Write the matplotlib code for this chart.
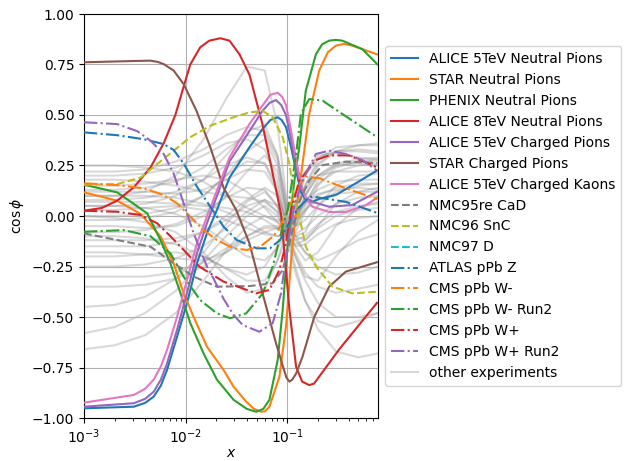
import matplotlib
matplotlib.use("Agg")
import matplotlib.pyplot as plt

# ---- data (x on log axis, y = cos phi) ----

# ALICE 5TeV Neutral Pions
alice5_pi0_x = [0.001, 0.00309, 0.004, 0.00485, 0.0057, 0.00656, 0.00822, 0.0103, 0.0129, 0.0162, 0.0203, 0.0270,
                0.0424, 0.0569, 0.068, 0.0804, 0.088, 0.0970, 0.109, 0.122, 0.136, 0.152, 0.176, 0.206, 0.300, 0.472, 0.762]
alice5_pi0_y = [-0.952, -0.944, -0.925, -0.894, -0.84, -0.762, -0.598, -0.432, -0.235, -0.085, 0.03, 0.19,
                0.34, 0.43, 0.475, 0.489, 0.475, 0.44, 0.34, 0.224, 0.12, 0.08, 0.07, 0.085, 0.104, 0.162, 0.225]

# STAR Neutral Pions
star_pi0_x = [0.001, 0.00212, 0.00360, 0.00565, 0.00762, 0.00955, 0.0120, 0.0162, 0.0236, 0.0296,
              0.0394, 0.047, 0.0552, 0.060, 0.0667, 0.0836, 0.0970, 0.109, 0.122, 0.141, 0.164, 0.206, 0.25,
              0.300, 0.36, 0.437, 0.767]
star_pi0_y = [0.117, 0.076, 0.01, -0.1, -0.235, -0.383, -0.5, -0.647, -0.762, -0.845,
              -0.919, -0.955, -0.969, -0.967, -0.944, -0.796, -0.548, -0.218, 0.026, 0.257, 0.505, 0.72, 0.81,
              0.843, 0.852, 0.843, 0.80]

# PHENIX Neutral Pions
phenix_pi0_x = [0.001, 0.00212, 0.00309, 0.00418, 0.00565, 0.00708, 0.00887, 0.0111, 0.0150, 0.0203,
                0.0296, 0.040, 0.0493, 0.058, 0.0667, 0.0804, 0.0900, 0.101, 0.109, 0.117, 0.131, 0.152, 0.191,
                0.22, 0.258, 0.30, 0.348, 0.547, 0.767]
phenix_pi0_y = [0.155, 0.117, 0.06, 0.013, -0.119, -0.235, -0.38, -0.53, -0.68, -0.81,
                -0.91, -0.955, -0.969, -0.955, -0.91, -0.713, -0.465, -0.135, 0.03, 0.17, 0.34, 0.62, 0.80,
                0.85, 0.868, 0.872, 0.868, 0.826, 0.752]

# ALICE 8TeV Neutral Pions
alice8_pi0_x = [0.001, 0.0015, 0.00212, 0.00309, 0.00451, 0.00608, 0.00792, 0.00955, 0.0111, 0.0139, 0.0171,
                0.0219, 0.0270, 0.0339, 0.0424, 0.0569, 0.0718, 0.0867, 0.105, 0.122, 0.140, 0.164, 0.183,
                0.206, 0.324, 0.762]
alice8_pi0_y = [0.026, 0.040, 0.076, 0.142, 0.24, 0.36, 0.5, 0.64, 0.75, 0.835, 0.868,
                0.88, 0.868, 0.80, 0.70, 0.455, 0.21, 0.01, -0.465, -0.746, -0.82, -0.837, -0.83,
                -0.795, -0.66, -0.43]

# ALICE 5TeV Charged Pions
alice5_pic_x = [0.001, 0.00309, 0.004, 0.00485, 0.0057, 0.00656, 0.00822, 0.0103, 0.0129, 0.0162, 0.0270, 0.0424,
                0.0569, 0.067, 0.0774, 0.087, 0.0970, 0.109, 0.122, 0.136, 0.152, 0.177, 0.258, 0.434, 0.762]
alice5_pic_y = [-0.944, -0.927, -0.905, -0.87, -0.81, -0.73, -0.564, -0.383, -0.185, -0.036, 0.27, 0.42,
                0.52, 0.56, 0.574, 0.55, 0.50, 0.38, 0.24, 0.14, 0.09, 0.07, 0.046, 0.054, 0.12]

# STAR Charged Pions
star_pic_x = [0.001, 0.0035, 0.00451, 0.0053, 0.00608, 0.00762, 0.00955, 0.0128, 0.0175, 0.0236, 0.0314, 0.0424,
              0.0569, 0.0774, 0.0900, 0.098, 0.105, 0.112, 0.122, 0.141, 0.184, 0.258, 0.377, 0.762]
star_pic_y = [0.761, 0.768, 0.769, 0.763, 0.752, 0.72, 0.653, 0.52, 0.34, 0.14, 0.03, -0.135,
              -0.38, -0.63, -0.74, -0.80, -0.82, -0.81, -0.78, -0.697, -0.5, -0.35, -0.275, -0.229]

# ALICE 5TeV Charged Kaons
alice5_k_x = [0.001, 0.00309, 0.004, 0.00485, 0.0057, 0.00656, 0.00822, 0.0103, 0.0129, 0.0162, 0.0270, 0.0424,
              0.0569, 0.068, 0.0804, 0.089, 0.0970, 0.109, 0.122, 0.136, 0.152, 0.176, 0.258, 0.377, 0.592, 0.762]
alice5_k_y = [-0.924, -0.886, -0.855, -0.81, -0.745, -0.663, -0.5, -0.317, -0.135, -0.003, 0.29, 0.455,
              0.546, 0.60, 0.61, 0.59, 0.55, 0.42, 0.28, 0.16, 0.09, 0.046, 0.02, 0.02, 0.054, 0.09]

# NMC95re CaD
nmc95_x = [0.001, 0.00212, 0.00451, 0.00762, 0.0120, 0.0203, 0.0424, 0.0718, 0.0900, 0.105,
           0.131, 0.164, 0.222, 0.377, 0.767]
nmc95_y = [-0.086, -0.119, -0.152, -0.234, -0.30, -0.35, -0.347, -0.333, -0.267, -0.135,
           0.07, 0.175, 0.252, 0.269, 0.262]

# NMC96 SnC
nmc96_x = [0.001, 0.00212, 0.00360, 0.00524, 0.00762, 0.0111, 0.0175, 0.0296, 0.0424, 0.0573,
           0.0718, 0.0900, 0.105, 0.117, 0.131, 0.152, 0.191, 0.278, 0.437, 0.767]
nmc96_y = [0.155, 0.158, 0.19, 0.257, 0.323, 0.39, 0.447, 0.489, 0.513, 0.52,
           0.489, 0.39, 0.257, 0.09, 0.0, -0.152, -0.25, -0.35, -0.383, -0.375]

# NMC97 D (not visible in the plotted range)
nmc97_x = []
nmc97_y = []

# ATLAS pPb Z
atlas_z_x = [0.001, 0.00212, 0.00387, 0.00608, 0.00762, 0.00955, 0.0129, 0.0175, 0.0236, 0.0318,
             0.0500, 0.0675, 0.0848, 0.100, 0.117, 0.131, 0.164, 0.177, 0.377, 0.767]
atlas_z_y = [0.414, 0.40, 0.38, 0.356, 0.327, 0.26, 0.145, 0.046, -0.053, -0.119,
             -0.16, -0.16, -0.119, -0.05, 0.013, 0.043, 0.093, 0.096, 0.07, 0.015]

# CMS pPb W-
cms_wm_x = [0.001, 0.00212, 0.00387, 0.00608, 0.00822, 0.0111, 0.0150, 0.0203, 0.0296, 0.0399,
            0.0540, 0.0729, 0.0848, 0.105, 0.131, 0.152, 0.206, 0.377, 0.767]
cms_wm_y = [0.162, 0.153, 0.137, 0.104, 0.063, -0.003, -0.07, -0.119, -0.16, -0.168,
            -0.152, -0.10, -0.053, 0.05, 0.15, 0.195, 0.187, 0.137, 0.084]

# CMS pPb W- Run2
cms_wm2_x = [0.001, 0.00247, 0.00451, 0.00708, 0.00955, 0.0139, 0.0203, 0.0274, 0.0394, 0.0573,
             0.0718, 0.0900, 0.101, 0.122, 0.136, 0.164, 0.222, 0.348, 0.767]
cms_wm2_y = [-0.078, -0.07, -0.10, -0.185, -0.30, -0.416, -0.482, -0.506, -0.482, -0.383,
             -0.25, -0.053, 0.03, 0.307, 0.505, 0.579, 0.571, 0.505, 0.39]

# CMS pPb W+
cms_wp_x = [0.001, 0.00212, 0.00360, 0.00524, 0.00708, 0.00955, 0.0136, 0.0236, 0.0296, 0.0493,
            0.0667, 0.0836, 0.0970, 0.109, 0.131, 0.191, 0.258, 0.406, 0.767]
cms_wp_y = [0.026, 0.021, 0.005, -0.036, -0.10, -0.168, -0.25, -0.325, -0.342, -0.383,
            -0.366, -0.267, -0.135, 0.03, 0.175, 0.277, 0.30, 0.30, 0.24]

# CMS pPb W+ Run2
cms_wp2_x = [0.001, 0.00212, 0.00334, 0.00451, 0.00608, 0.00762, 0.00887, 0.0103, 0.0120, 0.0139,
             0.0162, 0.0188, 0.0236, 0.0296, 0.0365, 0.0531, 0.0718, 0.0867, 0.101, 0.117,
             0.141, 0.191, 0.258, 0.377, 0.547, 0.767]
cms_wp2_y = [0.464, 0.455, 0.42, 0.373, 0.307, 0.21, 0.112, 0.013, -0.086, -0.168,
             -0.25, -0.31, -0.41, -0.49, -0.54, -0.573, -0.531, -0.383, -0.135, 0.05,
             0.175, 0.307, 0.323, 0.307, 0.277, 0.224]

# other experiments (grey), all on one x grid
other_x = [0.001, 0.002, 0.004, 0.008, 0.015, 0.025, 0.04, 0.06, 0.08, 0.1, 0.12, 0.15, 0.2, 0.3, 0.5, 0.78]
other_y = [
    [0.10, 0.10, 0.12, 0.20, 0.38, 0.58, 0.74, 0.72, 0.45, 0.05, -0.05, 0.10, 0.25, 0.32, 0.33, 0.32],
    [0.22, 0.22, 0.23, 0.27, 0.33, 0.40, 0.44, 0.42, 0.30, 0.05, 0.00, 0.15, 0.28, 0.34, 0.35, 0.35],
    [0.05, 0.05, 0.06, 0.10, 0.18, 0.30, 0.42, 0.45, 0.30, 0.00, -0.08, 0.02, 0.15, 0.24, 0.27, 0.27],
    [0.00, 0.00, 0.01, 0.04, 0.10, 0.20, 0.32, 0.38, 0.25, -0.02, -0.10, -0.08, 0.05, 0.15, 0.20, 0.21],
    [-0.05, -0.05, -0.06, -0.05, 0.00, 0.10, 0.22, 0.30, 0.22, 0.00, -0.05, 0.05, 0.18, 0.25, 0.27, 0.28],
    [-0.15, -0.15, -0.15, -0.13, -0.08, 0.00, 0.08, 0.14, 0.10, -0.05, -0.10, -0.12, -0.05, 0.06, 0.12, 0.14],
    [-0.25, -0.25, -0.24, -0.21, -0.15, -0.06, 0.02, 0.08, 0.05, -0.06, -0.15, -0.22, -0.18, -0.05, 0.04, 0.07],
    [-0.58, -0.55, -0.48, -0.37, -0.22, -0.10, 0.00, 0.05, 0.00, -0.08, -0.20, -0.30, -0.32, -0.20, -0.08, -0.02],
    [-0.66, -0.64, -0.59, -0.48, -0.32, -0.17, -0.05, 0.00, -0.03, -0.10, -0.25, -0.42, -0.56, -0.67, -0.70, -0.68],
    [0.10, 0.10, 0.10, 0.09, 0.06, 0.02, -0.03, -0.08, -0.10, -0.08, -0.02, 0.07, 0.16, 0.22, 0.25, 0.26],
    [0.15, 0.15, 0.16, 0.18, 0.20, 0.18, 0.12, 0.04, -0.03, -0.06, 0.00, 0.10, 0.20, 0.26, 0.28, 0.29],
    [0.05, 0.05, 0.04, 0.01, -0.05, -0.13, -0.20, -0.22, -0.16, -0.08, 0.00, 0.08, 0.13, 0.17, 0.18, 0.18],
    [-0.10, -0.10, -0.11, -0.14, -0.20, -0.26, -0.29, -0.25, -0.15, -0.04, 0.06, 0.14, 0.20, 0.22, 0.22, 0.22],
    [0.00, -0.01, -0.03, -0.08, -0.18, -0.30, -0.38, -0.36, -0.22, -0.06, -0.10, -0.18, -0.22, -0.18, -0.12, -0.09],
    [-0.20, -0.20, -0.19, -0.18, -0.20, -0.26, -0.32, -0.32, -0.22, -0.10, -0.18, -0.28, -0.35, -0.38, -0.36, -0.34],
    [0.25, 0.25, 0.24, 0.22, 0.17, 0.10, 0.04, 0.00, -0.02, -0.03, 0.05, 0.15, 0.26, 0.32, 0.35, 0.36],
    [0.08, 0.08, 0.09, 0.12, 0.18, 0.25, 0.29, 0.26, 0.12, -0.06, -0.12, -0.10, -0.04, 0.02, 0.05, 0.06],
    [-0.30, -0.30, -0.30, -0.28, -0.23, -0.16, -0.10, -0.06, -0.06, -0.10, -0.20, -0.32, -0.43, -0.50, -0.50, -0.48],
    [0.12, 0.12, 0.12, 0.11, 0.13, 0.18, 0.23, 0.22, 0.12, -0.04, -0.02, 0.03, 0.08, 0.11, 0.12, 0.12],
    [-0.08, -0.08, -0.07, -0.04, 0.02, 0.09, 0.14, 0.13, 0.05, -0.10, -0.15, -0.14, -0.09, -0.04, -0.01, 0.00],
    [0.18, 0.18, 0.17, 0.15, 0.12, 0.10, 0.09, 0.07, 0.02, -0.05, 0.08, 0.22, 0.30, 0.31, 0.29, 0.28],
    [-0.02, -0.02, -0.01, 0.02, 0.10, 0.20, 0.27, 0.26, 0.15, -0.06, 0.05, 0.20, 0.29, 0.32, 0.32, 0.31],
    [0.03, 0.03, 0.04, 0.05, 0.03, -0.02, -0.06, -0.09, -0.10, -0.10, -0.05, 0.03, 0.10, 0.14, 0.16, 0.16],
    [-0.18, -0.18, -0.19, -0.21, -0.22, -0.18, -0.10, -0.05, -0.05, -0.07, 0.00, 0.06, 0.11, 0.13, 0.14, 0.13],
    [0.20, 0.20, 0.21, 0.24, 0.30, 0.36, 0.38, 0.33, 0.18, -0.03, -0.09, -0.06, 0.00, 0.06, 0.09, 0.10],
    [-0.45, -0.44, -0.40, -0.31, -0.18, -0.04, 0.07, 0.12, 0.05, -0.08, -0.12, -0.18, -0.25, -0.29, -0.28, -0.25],
    [-0.35, -0.35, -0.34, -0.31, -0.25, -0.18, -0.12, -0.08, -0.06, -0.08, -0.02, 0.10, 0.20, 0.25, 0.26, 0.25],
    [0.13, 0.13, 0.14, 0.17, 0.24, 0.33, 0.40, 0.40, 0.28, 0.02, -0.05, -0.02, 0.05, 0.12, 0.15, 0.16],
    [-0.12, -0.12, -0.12, -0.11, -0.08, -0.02, 0.05, 0.08, 0.02, -0.12, -0.28, -0.42, -0.52, -0.55, -0.52, -0.48],
    [0.07, 0.07, 0.07, 0.06, 0.05, 0.04, 0.02, -0.02, -0.06, -0.10, -0.14, -0.12, -0.06, 0.00, 0.03, 0.04],
]

# ---- plot ----
fig = plt.figure(figsize=(6.26, 4.61), dpi=100)
ax = fig.add_axes([84 / 626, 43 / 461, 294 / 626, 404 / 461])

for i, ys in enumerate(other_y):
    ax.plot(other_x, ys, color="gray", alpha=0.3, lw=1.5,
            label="other experiments" if i == 0 else None, zorder=1)

solid = [
    (alice5_pi0_x, alice5_pi0_y, "C0", "ALICE 5TeV Neutral Pions"),
    (star_pi0_x, star_pi0_y, "C1", "STAR Neutral Pions"),
    (phenix_pi0_x, phenix_pi0_y, "C2", "PHENIX Neutral Pions"),
    (alice8_pi0_x, alice8_pi0_y, "C3", "ALICE 8TeV Neutral Pions"),
    (alice5_pic_x, alice5_pic_y, "C4", "ALICE 5TeV Charged Pions"),
    (star_pic_x, star_pic_y, "C5", "STAR Charged Pions"),
    (alice5_k_x, alice5_k_y, "C6", "ALICE 5TeV Charged Kaons"),
]
dashed = [
    (nmc95_x, nmc95_y, "C7", "NMC95re CaD"),
    (nmc96_x, nmc96_y, "C8", "NMC96 SnC"),
    (nmc97_x, nmc97_y, "C9", "NMC97 D"),
]
dashdot = [
    (atlas_z_x, atlas_z_y, "C0", "ATLAS pPb Z"),
    (cms_wm_x, cms_wm_y, "C1", "CMS pPb W-"),
    (cms_wm2_x, cms_wm2_y, "C2", "CMS pPb W- Run2"),
    (cms_wp_x, cms_wp_y, "C3", "CMS pPb W+"),
    (cms_wp2_x, cms_wp2_y, "C4", "CMS pPb W+ Run2"),
]

handles = []
for xs, ys, c, lab in solid:
    h, = ax.plot(xs, ys, color=c, lw=1.5, label=lab, zorder=3)
    handles.append(h)
for xs, ys, c, lab in dashed:
    h, = ax.plot(xs, ys, color=c, lw=1.5, ls="--", label=lab, zorder=3)
    handles.append(h)
for xs, ys, c, lab in dashdot:
    h, = ax.plot(xs, ys, color=c, lw=1.5, ls="-.", label=lab, zorder=3)
    handles.append(h)
handles.append(ax.get_lines()[0])

ax.set_xscale("log")
ax.set_xlim(1e-3, 0.78)
ax.set_ylim(-1, 1)
ax.grid(True)
ax.set_xlabel("$x$", labelpad=0)
ax.set_ylabel(r"$\cos\phi$")

ax.legend(handles=handles, loc="center left", bbox_to_anchor=(1.0, 0.5))

plt.savefig("out.png", dpi=100)
